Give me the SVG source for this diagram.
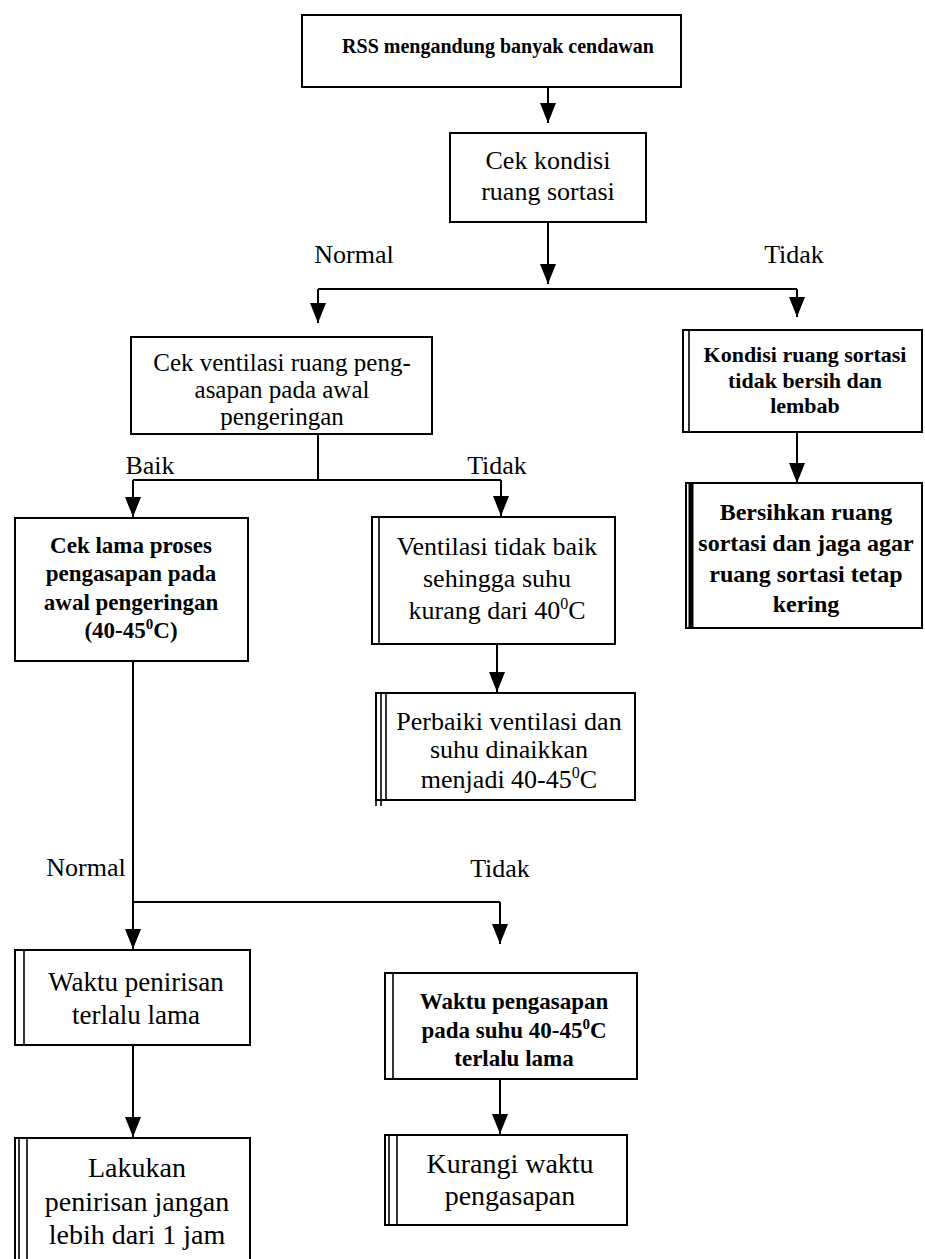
<svg xmlns="http://www.w3.org/2000/svg" width="925" height="1259" viewBox="0 0 925 1259" font-family="'Liberation Serif', 'Times New Roman', serif">
<defs>
<marker id="ah" viewBox="0 0 20 16" refX="20" refY="8" markerWidth="20" markerHeight="16" markerUnits="userSpaceOnUse" orient="auto">
<path d="M0,0 L20,8 L0,16 z" fill="#000"/>
</marker>
<style>
.box{fill:#fff;stroke:#000;stroke-width:2}
.bar{stroke:#000;stroke-width:1.6}
.con{fill:none;stroke:#000;stroke-width:2}
.arr{fill:none;stroke:#000;stroke-width:2;marker-end:url(#ah)}
text{font-family:'Liberation Serif','Times New Roman',serif;fill:#000;text-anchor:middle}
.r26{font-size:26px}
.r25{font-size:25px}
.r27{font-size:27px}
.r28{font-size:28px}
.b{font-weight:bold}
.b23{font-size:23px;font-weight:bold}
.b22{font-size:22px;font-weight:bold}
.b24{font-size:24px;font-weight:bold}
.lbl{font-size:26px}
</style>
</defs>
<rect width="925" height="1259" fill="#fff"/>

<g id="connectors">
<path class="arr" d="M548,87 V123"/>
<path class="arr" d="M548,222 V284"/>
<path class="con" d="M318,289 H797"/>
<path class="arr" d="M318,289 V323"/>
<path class="arr" d="M797,289 V317"/>
<path class="arr" d="M797,432 V483"/>
<path class="con" d="M318,434 V480"/>
<path class="con" d="M133,480 H501"/>
<path class="arr" d="M133,480 V517"/>
<path class="arr" d="M501,480 V516"/>
<path class="arr" d="M497,644 V692"/>
<path class="con" d="M133,661 V902"/>
<path class="con" d="M133,902 H500"/>
<path class="arr" d="M133,902 V949"/>
<path class="arr" d="M500,902 V944"/>
<path class="arr" d="M133,1045 V1137"/>
<path class="arr" d="M500,1079 V1134"/>
</g>

<g id="labels">
<text class="lbl" x="354" y="263">Normal</text>
<text class="lbl" x="794" y="263">Tidak</text>
<text class="lbl" x="150" y="474">Baik</text>
<text class="lbl" x="497" y="474">Tidak</text>
<text class="lbl" x="86" y="876">Normal</text>
<text class="lbl" x="500" y="877">Tidak</text>
</g>

<g id="n1">
<rect class="box" x="302" y="15" width="379" height="72"/>
<text class="b" font-size="20" x="498" y="53">RSS mengandung banyak cendawan</text>
</g>

<g id="n2">
<rect class="box" x="450" y="133" width="196" height="89"/>
<text class="r26" x="548" y="169">Cek kondisi</text>
<text class="r26" x="548" y="200">ruang sortasi</text>
</g>

<g id="n3">
<rect class="box" x="131" y="337" width="301" height="97"/>
<text class="r25" x="282" y="371">Cek ventilasi ruang peng-</text>
<text class="r25" x="282" y="398">asapan pada awal</text>
<text class="r25" x="282" y="425">pengeringan</text>
</g>

<g id="n4">
<rect class="box" x="683" y="330" width="239" height="102"/>
<line class="bar" x1="689" y1="330" x2="689" y2="432"/>
<text class="b22" x="805" y="362">Kondisi ruang sortasi</text>
<text class="b22" x="805" y="388">tidak bersih dan</text>
<text class="b22" x="805" y="413">lembab</text>
</g>

<g id="n5">
<rect class="box" x="686" y="483" width="236" height="145"/>
<line x1="691" y1="483" x2="691" y2="628" stroke="#000" stroke-width="5"/>
<text class="b24" x="806" y="520">Bersihkan ruang</text>
<text class="b24" x="806" y="551">sortasi dan jaga agar</text>
<text class="b24" x="806" y="582">ruang sortasi tetap</text>
<text class="b24" x="806" y="612">kering</text>
</g>

<g id="n6">
<rect class="box" x="15" y="518" width="233" height="143"/>
<text class="b23" x="131" y="553">Cek lama proses</text>
<text class="b23" x="131" y="581">pengasapan pada</text>
<text class="b23" x="131" y="610">awal pengeringan</text>
<text class="b23" x="131" y="638">(40-45<tspan font-size="15" dy="-9">0</tspan><tspan dy="9">C)</tspan></text>
</g>

<g id="n7">
<rect class="box" x="372" y="517" width="243" height="127"/>
<line class="bar" x1="379" y1="517" x2="379" y2="644"/>
<text class="r26" x="497" y="555">Ventilasi tidak baik</text>
<text class="r26" x="497" y="587">sehingga suhu</text>
<text class="r26" x="497" y="619">kurang dari 40<tspan font-size="16" dy="-10">0</tspan><tspan dy="10">C</tspan></text>
</g>

<g id="n8">
<rect class="box" x="376" y="693" width="259" height="107"/>
<line class="bar" x1="376" y1="693" x2="376" y2="806"/>
<line class="bar" x1="381" y1="693" x2="381" y2="806"/>
<line class="bar" x1="386" y1="693" x2="386" y2="800"/>
<text class="r26" x="509" y="730">Perbaiki ventilasi dan</text>
<text class="r26" x="509" y="758">suhu dinaikkan</text>
<text class="r26" x="509" y="788">menjadi 40-45<tspan font-size="16" dy="-10">0</tspan><tspan dy="10">C</tspan></text>
<rect x="377" y="799" width="258" height="2" fill="#000"/>
</g>

<g id="n9">
<rect class="box" x="15" y="950" width="235" height="95"/>
<line class="bar" x1="24" y1="950" x2="24" y2="1045"/>
<text class="r27" x="136" y="991">Waktu penirisan</text>
<text class="r27" x="136" y="1024">terlalu lama</text>
</g>

<g id="n10">
<rect class="box" x="385" y="973" width="252" height="106"/>
<line class="bar" x1="393" y1="973" x2="393" y2="1079"/>
<text class="b23" x="514" y="1009">Waktu pengasapan</text>
<text class="b23" x="514" y="1038">pada suhu 40-45<tspan font-size="15" dy="-9">0</tspan><tspan dy="9">C</tspan></text>
<text class="b23" x="514" y="1066">terlalu lama</text>
</g>

<g id="n11">
<rect class="box" x="15" y="1138" width="235" height="130"/>
<line class="bar" x1="19" y1="1138" x2="19" y2="1259"/>
<line class="bar" x1="27" y1="1138" x2="27" y2="1259"/>
<text class="r28" x="137" y="1177">Lakukan</text>
<text class="r28" x="137" y="1211">penirisan jangan</text>
<text class="r28" x="137" y="1244">lebih dari 1 jam</text>
</g>

<g id="n12">
<rect class="box" x="385" y="1135" width="242" height="90"/>
<line class="bar" x1="389" y1="1135" x2="389" y2="1225"/>
<line class="bar" x1="397" y1="1135" x2="397" y2="1225"/>
<text class="r28" x="510" y="1173">Kurangi waktu</text>
<text class="r28" x="510" y="1205">pengasapan</text>
</g>
</svg>
